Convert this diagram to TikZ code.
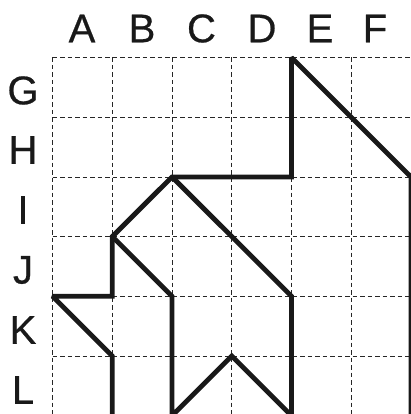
\documentclass[tikz,border=0pt]{standalone}
\usepackage{fontspec}
\setmainfont{Liberation Sans}
\newfontfamily\letterfont[FakeBold=0.6]{Liberation Sans}
\begin{document}
\begin{tikzpicture}[
    x=1pt, y=-1pt,
    gridline/.style={dashed, dash pattern=on 4.5pt off 3pt, line width=0.7pt, black!85},
    outline/.style={line width=4.8pt, black!90, line join=miter, miter limit=2},
    letter/.style={font=\letterfont\fontsize{40}{40}\selectfont, text=black!90, inner sep=0pt}
]
\useasboundingbox (0,0) rectangle (411,414);
\clip (0,0) rectangle (411,414);
\foreach \i in {0,...,6} {
    \foreach \j in {0,...,6} {
        \coordinate (p\i\j) at (52.5+59.75*\i, 57.5+59.7*\j);
    }
}
\foreach \i in {0,...,6} {
    \draw[gridline] (p\i0) -- (p\i6);
    \draw[gridline] (p0\i) -- (p6\i);
}
\foreach \name/\xpos in {A/82, B/142, C/201.5, D/262, E/320, F/375} {
    \node[letter] (col\name) at (\xpos, 28.5) {\name};
}
\foreach \name/\ypos in {G/90.5, H/150, I/210, J/270, K/330, L/390} {
    \node[letter] (row\name) at (23, \ypos) {\name};
}
\draw[outline] (p16) -- (p15) -- (p04) -- (p14) -- (p13) -- (p22) -- (p42)
    -- (p40) -- (p62) -- (p66);
\draw[outline] (p13) -- (p24) -- (p26) -- (p35) -- (p46) -- (p44) -- (p22);
\end{tikzpicture}
\end{document}
